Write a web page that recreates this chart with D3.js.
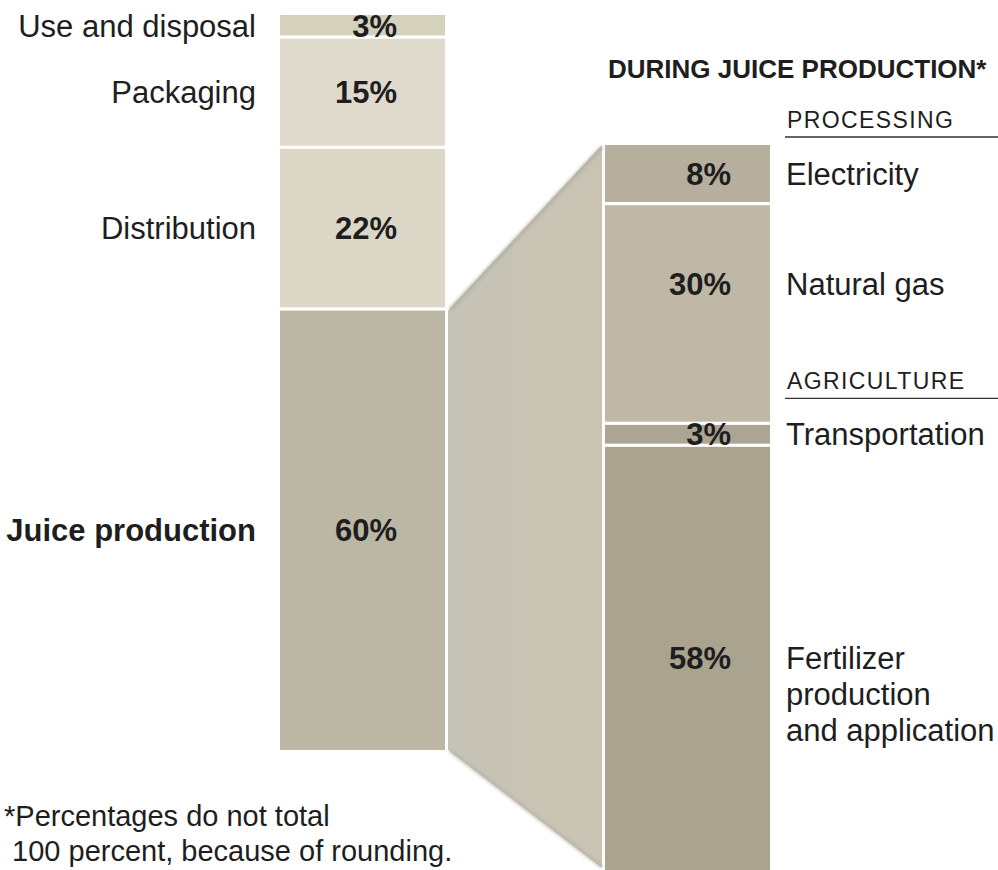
<!DOCTYPE html>
<html>
<head>
<meta charset="utf-8">
<script src="https://cdn.jsdelivr.net/npm/d3@7"></script>
<style>
  html, body { margin: 0; padding: 0; background: #ffffff; }
  svg { display: block; }
  text { font-family: "Liberation Sans", Arial, Helvetica, sans-serif; fill: #1e1e1e; }
</style>
</head>
<body>
<script>
// Life-cycle stages of the product (left bar), top to bottom
const stages = ["Use and disposal", "Packaging", "Distribution", "Juice production"];
const stageShares = [3, 15, 22, 60];

// Breakdown of the juice production stage (right bar), top to bottom
const processes = ["Electricity", "Natural gas", "Transportation", "Fertilizer production and application"];
const processShares = [8, 30, 3, 58];

// Group headings over the breakdown and the index of the first process in each
const groupNames = ["PROCESSING", "AGRICULTURE"];
const groupStarts = [0, 2];

const title = "DURING JUICE PRODUCTION*";
const footnote = ["*Percentages do not total", " 100 percent, because of rounding."];

const W = 998, H = 870;
const svg = d3.select("body").append("svg").attr("width", W).attr("height", H);

const stageFill = ["#d4d1bd", "#dfdacb", "#dcd7c6", "#bcb6a4"];
const processFill = ["#b6af9d", "#bfb8a6", "#aca593", "#aaa390"];

// Bar geometry
const left = { x0: 280, x1: 445 };
const right = { x0: 605, x1: 770 };
const gap = 1.6;

function stack(values) {
  let acc = 0;
  return values.map(v => { const s = acc; acc += v; return [s, acc]; });
}
const stageStack = stack(stageShares);
const processStack = stack(processShares);

const yLeft = d3.scaleLinear().domain([0, d3.sum(stageShares)]).range([15, 750]);
const yRight = d3.scaleLinear().domain([0, d3.sum(processShares)]).range([145, 870]);

// Connector from the juice production segment to the breakdown bar
const juice = stageStack[stageStack.length - 1];
const wedge = [
  [left.x1 + 3, yLeft(juice[0]) + gap],
  [right.x0 - 3, yRight(0)],
  [right.x0 - 3, yRight(d3.sum(processShares)) - 2],
  [left.x1 + 3, yLeft(juice[1])]
];
const defs = svg.append("defs");
const grad = defs.append("linearGradient").attr("id", "wedgeFill")
  .attr("x1", 0).attr("x2", 1).attr("y1", 0).attr("y2", 0);
grad.append("stop").attr("offset", "0%").attr("stop-color", "#c5c3b6");
grad.append("stop").attr("offset", "42%").attr("stop-color", "#c6c3b5");
grad.append("stop").attr("offset", "43%").attr("stop-color", "#cac4b5");
grad.append("stop").attr("offset", "100%").attr("stop-color", "#c9c3b3");

svg.append("path")
  .attr("d", d3.line()(wedge) + "Z")
  .attr("fill", "url(#wedgeFill)");
// soft shading along the two slanted edges
const edgeBlur = defs.append("filter").attr("id", "edgeBlur");
edgeBlur.append("feGaussianBlur").attr("stdDeviation", 1.5);
svg.append("path")
  .attr("d", d3.line()([[wedge[0][0] + 2, wedge[0][1] - 1], [wedge[1][0], wedge[1][1] + 2]]))
  .attr("stroke", "#aeaba1").attr("stroke-width", 4).attr("fill", "none")
  .attr("filter", "url(#edgeBlur)").attr("opacity", 0.7);
svg.append("path")
  .attr("d", d3.line()([[wedge[3][0] + 2, wedge[3][1] + 1], [wedge[2][0], wedge[2][1] - 1]]))
  .attr("stroke", "#b3b0a6").attr("stroke-width", 4).attr("fill", "none")
  .attr("filter", "url(#edgeBlur)").attr("opacity", 0.6);

// Left bar
svg.append("g").selectAll("rect").data(stageStack).join("rect")
  .attr("x", left.x0)
  .attr("width", left.x1 - left.x0)
  .attr("y", (d, i) => yLeft(d[0]) + (i === 0 ? 0 : gap))
  .attr("height", (d, i) => yLeft(d[1]) - yLeft(d[0]) - (i === 0 ? gap : 2 * gap) + (i === stageStack.length - 1 ? gap : 0))
  .attr("fill", (d, i) => stageFill[i]);

// Right bar
svg.append("g").selectAll("rect").data(processStack).join("rect")
  .attr("x", right.x0)
  .attr("width", right.x1 - right.x0)
  .attr("y", (d, i) => yRight(d[0]) + (i === 0 ? 0 : gap))
  .attr("height", (d, i) => yRight(d[1]) - yRight(d[0]) - (i === 0 ? gap : 2 * gap) + (i === processStack.length - 1 ? gap : 0))
  .attr("fill", (d, i) => processFill[i]);

const FS = 31;
const capMid = 11;

// Stage names and shares
stages.forEach((name, i) => {
  const cy = (yLeft(stageStack[i][0]) + yLeft(stageStack[i][1])) / 2;
  const bold = i === stages.length - 1;
  svg.append("text")
    .attr("x", 256).attr("y", cy + capMid)
    .attr("text-anchor", "end")
    .attr("font-size", FS)
    .attr("font-weight", bold ? "bold" : "normal")
    .text(name);
  svg.append("text")
    .attr("x", 397).attr("y", cy + capMid)
    .attr("text-anchor", "end")
    .attr("font-size", FS)
    .attr("font-weight", "bold")
    .text(stageShares[i] + "%");
});

// Process names and shares
const labelShift = { "Natural gas": -29 };
const wrapLines = { "Fertilizer production and application": ["Fertilizer", "production", "and application"] };
processes.forEach((name, i) => {
  const cy = (yRight(processStack[i][0]) + yRight(processStack[i][1])) / 2 + (labelShift[name] || 0);
  svg.append("text")
    .attr("x", 731).attr("y", cy + capMid)
    .attr("text-anchor", "end")
    .attr("font-size", FS)
    .attr("font-weight", "bold")
    .text(processShares[i] + "%");
  const lines = wrapLines[name] || [name];
  const t = svg.append("text")
    .attr("x", 786).attr("y", cy + capMid)
    .attr("font-size", FS);
  lines.forEach((ln, k) => {
    t.append("tspan").attr("x", 786).attr("dy", k === 0 ? 0 : 36).text(ln);
  });
});

// Group headings with rules
const headingLift = [8, 25];
groupNames.forEach((g, i) => {
  const ruleY = yRight(processStack[groupStarts[i]][0]) - headingLift[i];
  svg.append("line")
    .attr("x1", 785).attr("x2", 998)
    .attr("y1", ruleY).attr("y2", ruleY)
    .attr("stroke", "#333").attr("stroke-width", 1.3);
  svg.append("text")
    .attr("x", 787).attr("y", ruleY - 9)
    .attr("font-size", 23)
    .attr("letter-spacing", 1.4)
    .text(g);
});

// Title over the breakdown
svg.append("text")
  .attr("x", 608).attr("y", 78)
  .attr("font-size", 26)
  .attr("font-weight", "bold")
  .text(title);

// Footnote
svg.append("text")
  .attr("x", 4).attr("y", 826)
  .attr("font-size", 29)
  .selectAll("tspan").data(footnote).join("tspan")
  .attr("x", 4).attr("dy", (d, i) => i === 0 ? 0 : 35)
  .text(d => d);
</script>
</body>
</html>
